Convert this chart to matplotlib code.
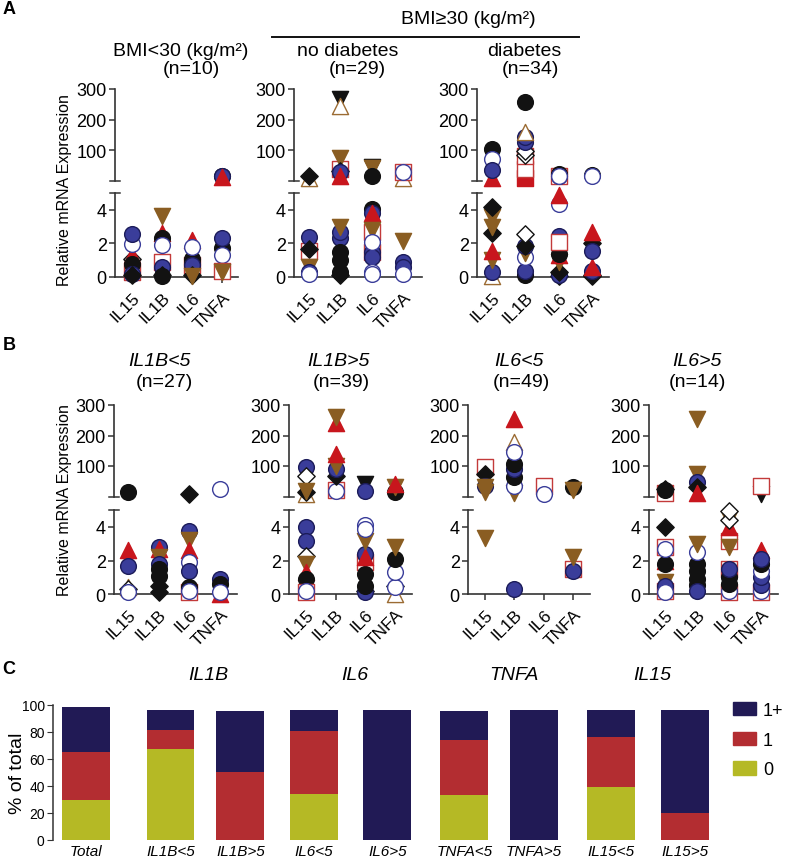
import matplotlib
matplotlib.use("Agg")
import matplotlib.pyplot as plt
from matplotlib.patches import Patch
from matplotlib.transforms import blended_transform_factory

plt.rcParams['font.family'] = ['Liberation Sans', 'DejaVu Sans']

W, H = 786, 862

# ---------------- data ----------------
GENES = ["IL15", "IL1B", "IL6", "TNFA"]

# Panel A, BMI<30
A1_IL15 = [("os", 0.3), ("od", 1.1), ("rt", 1.3), ("bc", 0.8), ("uc", 0.2), ("bd", 0.1), ("oc", 1.97), ("uc", 2.56)]
A1_IL1B = [("os", 0.9), ("rt", 2.6), ("bv", 3.65), ("bc", 2.3), ("oc", 1.9), ("uc", 0.6), ("bd", 0.1), ("bc", 0.05)]
A1_IL6 = [("rt", 2.2), ("os", 0.7), ("bc", 1.1), ("bc", 0.8), ("oc", 1.8), ("uc", 0.7), ("bd", 0.1), ("bv", 0.05)]
A1_TNFA = [("bc", 14), ("uc", 16), ("rt", 10), ("bc", 1.7), ("uc", 2.3), ("oc", 1.3), ("os", 0.35), ("bv", 0.3)]
# Panel A, BMI>=30 no diabetes
A2_IL15 = [("ot", 8), ("bd", 16), ("os", 1.57), ("uc", 2.4), ("bd", 1.65), ("bv", 0.6), ("uc", 0.3), ("oc", 0.15)]
A2_IL1B = [("os", 38), ("bv", 75), ("bd", 32), ("uc", 28), ("rt", 16), ("kv", 267), ("ot", 245),
           ("uc", 2.3), ("uc", 2.7), ("bv", 3.0), ("bc", 1.5), ("bc", 1.0), ("bd", 0.1), ("bc", 0.3)]
A2_IL6 = [("kv", 44), ("bv", 40), ("bc", 16), ("os", 2.7), ("os", 1.5), ("uc", 1.5), ("uc", 1.2), ("bc", 4.05),
          ("uc", 3.8), ("rt", 3.8), ("bv", 2.8), ("oc", 2.1), ("oc", 0.3), ("oc", 0.15)]
A2_TNFA = [("ot", 7), ("os", 29), ("oc", 28), ("bv", 2.15), ("uc", 0.9), ("uc", 0.6), ("oc", 0.15)]
# Panel A, BMI>=30 diabetes
A3_IL15 = [("bc", 103), ("oc", 70), ("rt", 8), ("uc", 35), ("ot", 0.05), ("uc", 0.3), ("bv", 1.0), ("rt", 1.57),
           ("bd", 2.6), ("bv", 3.0), ("bv", 3.57), ("bd", 4.17)]
A3_IL1B = [("rs", 8), ("os", 38), ("os", 81), ("od", 84), ("od", 98), ("uc", 125), ("uc", 142), ("ot", 159), ("bc", 257),
           ("bc", 0.1), ("uc", 0.35), ("oc", 1.2), ("bv", 1.4), ("uc", 1.85), ("bd", 1.87), ("od", 2.55)]
A3_IL6 = [("os", 16), ("uc", 16), ("bc", 22), ("oc", 16), ("bd", 0.05), ("uc", 0.1), ("bd", 0.3), ("bv", 0.9),
          ("rt", 1.3), ("bc", 1.35), ("uc", 2.46), ("os", 2.07), ("oc", 4.35), ("rt", 4.9)]
A3_TNFA = [("bc", 18), ("oc", 16), ("od", 0.05), ("bd", 0.1), ("uc", 0.35), ("rt", 0.6), ("bd", 2.0), ("rt", 2.7), ("uc", 1.57)]

# Panel B
B1_IL15 = [("bc", 14), ("rt", 2.6), ("uc", 1.7), ("ot", 0.4), ("od", 0.3), ("oc", 0.1)]
B1_IL1B = [("uc", 2.8), ("rt", 2.7), ("bv", 2.2), ("uc", 1.8), ("bc", 1.5), ("bc", 1.1), ("bd", 0.5), ("bd", 0.1)]
B1_IL6 = [("bd", 8), ("uc", 3.78), ("bv", 3.2), ("rt", 2.6), ("oc", 1.9), ("uc", 1.4), ("os", 0.1), ("bc", 0.4), ("oc", 0.2)]
B1_TNFA = [("oc", 25), ("rt", 0.0), ("uc", 0.9), ("bc", 0.6), ("oc", 0.1)]

B2_IL15 = [("ot", 7), ("bd", 15), ("uc", 96), ("od", 68), ("bv", 19), ("uc", 3.98), ("uc", 3.18), ("od", 2.29),
           ("bv", 1.8), ("rt", 1.3), ("bc", 0.9), ("os", 0.1), ("oc", 0.2)]
B2_IL1B = [("os", 20), ("oc", 19), ("bd", 68), ("uc", 90), ("bv", 101), ("rt", 139), ("rt", 240), ("bv", 261)]
B2_IL6 = [("kv", 40), ("uc", 19), ("bd", 0.2), ("uc", 0.1), ("bc", 0.5), ("os", 1.9), ("bc", 1.2), ("uc", 2.39),
          ("rt", 2.2), ("bv", 3.18), ("oc", 4.1), ("oc", 3.88)]
B2_TNFA = [("bc", 15), ("bv", 30), ("rt", 41), ("ot", 0.0), ("od", 0.5), ("oc", 0.4), ("oc", 1.3), ("bc", 2.09), ("bv", 2.79)]

B3_IL15 = [("os", 97), ("bd", 74), ("uc", 35), ("bv", 30), ("bv", 16), ("bv", 3.35)]
B3_IL1B = [("bv", 10), ("oc", 35), ("bc", 65), ("uc", 90), ("bc", 105), ("ot", 178), ("oc", 146), ("rt", 254), ("uc", 0.3)]
B3_IL6 = [("os", 35), ("oc", 8)]
B3_TNFA = [("bc", 30), ("bv", 20), ("os", 1.5), ("uc", 1.4), ("bv", 2.19)]

B4_IL15 = [("os", 10), ("bc", 20), ("bd", 25), ("os", 0.2), ("os", 2.8), ("bv", 0.7), ("rt", 2.0), ("bc", 1.79),
           ("oc", 2.69), ("uc", 0.5), ("oc", 0.1), ("bd", 3.98)]
B4_IL1B = [("bv", 74), ("uc", 46), ("bd", 30), ("rt", 10), ("bv", 254), ("bc", 0.55), ("bc", 0.9), ("bc", 1.4),
           ("bc", 1.8), ("uc", 0.15), ("oc", 2.49), ("bv", 2.99)]
B4_IL6 = [("os", 0.1), ("os", 1.5), ("os", 3.18), ("oc", 0.2), ("bc", 0.6), ("bc", 1.0), ("uc", 1.49), ("bv", 2.8),
          ("rt", 3.98), ("bv", 4.45), ("od", 4.4), ("od", 4.97)]
B4_TNFA = [("kv", 7), ("os", 35), ("os", 0.1), ("oc", 0.2), ("uc", 0.55), ("uc", 1.0), ("oc", 1.4), ("bc", 1.8),
           ("rt", 2.6), ("uc", 2.1)]

# Panel C (% of total)
C_CATS = ["Total", "IL1B<5", "IL1B>5", "IL6<5", "IL6>5", "TNFA<5", "TNFA>5", "IL15<5", "IL15>5"]
C_ZERO = [29.6, 67.4, 0, 34.0, 0, 33.6, 0, 39.5, 0]
C_ONE = [35.8, 14.3, 50.1, 46.5, 0, 40.4, 0, 37.0, 20.2]
C_ONEPLUS = [33.1, 14.8, 45.7, 16.0, 96.5, 21.8, 96.0, 19.5, 76.1]
C_GROUPS = ["IL1B", "IL6", "TNFA", "IL15"]

# ---------------- styles ----------------
STYLES = {
    'bc': dict(marker='o', fc='#121212', ec='#121212'),
    'uc': dict(marker='o', fc='#3a3d9a', ec='#1c1c5a'),
    'oc': dict(marker='o', fc='white', ec='#3a3d9a'),
    'bd': dict(marker='D', fc='#121212', ec='#121212'),
    'od': dict(marker='D', fc='white', ec='#121212'),
    'bv': dict(marker='v', fc='#8a5d22', ec='#8a5d22'),
    'kv': dict(marker='v', fc='#121212', ec='#121212'),
    'ot': dict(marker='^', fc='white', ec='#9b6b33'),
    'rt': dict(marker='^', fc='#c8161d', ec='#c8161d'),
    'os': dict(marker='s', fc='white', ec='#c33a3a'),
    'rs': dict(marker='s', fc='#c8161d', ec='#c8161d'),
}
MSIZE = {'o': 128, 'D': 78, 'v': 135, '^': 135, 's': 120}
AXC = '#333333'

fig = plt.figure(figsize=(W / 100, H / 100), dpi=100)


def rect(x0, ytop, x1, ybot):
    return [x0 / W, 1 - ybot / H, (x1 - x0) / W, (ybot - ytop) / H]


def ftext(x, y, s, **kw):
    kw.setdefault('ha', 'center')
    kw.setdefault('va', 'center')
    fig.text(x / W, 1 - y / H, s, **kw)


def broken(x_spine, cat0, cat3, x_end, top0, ppu_top, bot0, ppu_bot, cols):
    ppx = (cat3 - cat0) / 3.0
    xlo = -(cat0 - x_spine) / ppx
    xhi = 3 + (x_end - cat3) / ppx
    TOPMAX = 312
    at = fig.add_axes(rect(x_spine, top0 - TOPMAX * ppu_top, x_end, top0))
    ab = fig.add_axes(rect(x_spine, bot0 - 5 * ppu_bot, x_end, bot0))
    for ax in (at, ab):
        ax.set_xlim(xlo, xhi)
        ax.patch.set_alpha(0)
        for s in ('top', 'right'):
            ax.spines[s].set_visible(False)
        for s in ('left', 'bottom'):
            ax.spines[s].set_color(AXC)
            ax.spines[s].set_linewidth(1.2)
        ax.tick_params(direction='out', length=4, width=1.1, color=AXC, labelsize=13, pad=2)
    at.set_ylim(0, TOPMAX)
    at.spines['bottom'].set_visible(False)
    at.spines['left'].set_bounds(0, 300)
    at.set_yticks([100, 200, 300])
    at.set_xticks([])
    ab.set_ylim(0, 5)
    ab.spines['left'].set_bounds(0, 5)
    ab.set_yticks([0, 2, 4])
    ab.set_xticks(range(4))
    ab.set_xticklabels(GENES, rotation=45, ha='right', rotation_mode='anchor', fontsize=12.5)
    ab.tick_params(axis='x', pad=5)
    # break marks
    half = 5.0 / (x_end - x_spine)
    for ax, yv in ((at, 0), (ab, 5)):
        tr = blended_transform_factory(ax.transAxes, ax.transData)
        ax.plot([-half, half], [yv, yv], color=AXC, lw=1.1, transform=tr, clip_on=False)
    k = 0
    for i, col in enumerate(cols):
        for st, v in col:
            sty = STYLES[st]
            ax = at if v > 5 else ab
            ax.scatter([i], [v], marker=sty['marker'], s=MSIZE[sty['marker']], facecolors=sty['fc'],
                       edgecolors=sty['ec'], linewidths=1.0, clip_on=False, zorder=3 + k * 0.01)
            k += 1
    return at, ab


# ---------------- Panel A ----------------
A_top0, A_ppt, A_bot0, A_ppb = 181.5, 0.305, 278, 16.8
broken(115, 132, 222, 238, A_top0, A_ppt, A_bot0, A_ppb, [A1_IL15, A1_IL1B, A1_IL6, A1_TNFA])
broken(294, 309, 403, 422, A_top0, A_ppt, A_bot0, A_ppb, [A2_IL15, A2_IL1B, A2_IL6, A2_TNFA])
broken(477, 492, 592, 609, A_top0, A_ppt, A_bot0, A_ppb, [A3_IL15, A3_IL1B, A3_IL6, A3_TNFA])

ftext(468, 19, "BMI≥30 (kg/m²)", fontsize=14)
fig.add_artist(plt.Line2D([272 / W, 579 / W], [1 - 38 / H, 1 - 38 / H], color='#111111', lw=1.4))
ftext(181, 51, "BMI<30 (kg/m²)", fontsize=14)
ftext(191, 70, "(n=10)", fontsize=14)
ftext(348, 51, "no diabetes", fontsize=14)
ftext(357, 70, "(n=29)", fontsize=14)
ftext(524, 51, "diabetes", fontsize=14)
ftext(530, 70, "(n=34)", fontsize=14)
ftext(65, 190, "Relative mRNA Expression", rotation=90, fontsize=11.5)
ftext(9, 9, "A", fontsize=13, fontweight='bold')

# ---------------- Panel B ----------------
B_top0, B_ppt, B_bot0, B_ppb = 497.5, 0.305, 595, 16.75
broken(114, 128, 220, 237, B_top0, B_ppt, B_bot0, B_ppb, [B1_IL15, B1_IL1B, B1_IL6, B1_TNFA])
broken(289, 306, 395, 412, B_top0, B_ppt, B_bot0, B_ppb, [B2_IL15, B2_IL1B, B2_IL6, B2_TNFA])
broken(468, 485, 573, 590, B_top0, B_ppt, B_bot0, B_ppb, [B3_IL15, B3_IL1B, B3_IL6, B3_TNFA])
broken(649, 665, 761, 778, B_top0, B_ppt, B_bot0, B_ppb, [B4_IL15, B4_IL1B, B4_IL6, B4_TNFA])

for (x, y, s, it) in [(159, 362, "IL1B<5", True), (164, 383, "(n=27)", False),
                      (338, 362, "IL1B>5", True), (341, 383, "(n=39)", False),
                      (519, 362, "IL6<5", True), (521, 383, "(n=49)", False),
                      (697, 362, "IL6>5", True), (697, 383, "(n=14)", False)]:
    ftext(x, y, s, fontsize=14, style='italic' if it else 'normal')
ftext(65, 500, "Relative mRNA Expression", rotation=90, fontsize=11.5)
ftext(9, 346, "B", fontsize=13, fontweight='bold')

# ---------------- Panel C ----------------
XPOS = [0, 1.15, 2.1, 3.1, 4.1, 5.15, 6.1, 7.15, 8.15]
NAVY, RED, YEL = '#211a55', '#b32d31', '#b5b925'
axc = fig.add_axes(rect(53, 706, 720, 841))
axc.bar(XPOS, C_ZERO, width=0.65, color=YEL)
bot1 = [z for z in C_ZERO]
axc.bar(XPOS, C_ONE, width=0.65, bottom=bot1, color=RED)
bot2 = [z + o for z, o in zip(C_ZERO, C_ONE)]
axc.bar(XPOS, C_ONEPLUS, width=0.65, bottom=bot2, color=NAVY)
axc.set_xlim(-0.45, 8.63)
axc.set_ylim(0, 100)
for s in ('top', 'right', 'bottom'):
    axc.spines[s].set_visible(False)
axc.spines['left'].set_color(AXC)
axc.spines['left'].set_linewidth(1.1)
axc.set_yticks(range(0, 101, 20))
axc.tick_params(axis='y', direction='out', length=4, color=AXC, labelsize=10, pad=2)
axc.set_xticks(XPOS)
axc.set_xticklabels(C_CATS, style='italic', fontsize=11)
axc.tick_params(axis='x', length=0, pad=3)
ftext(18, 773, "% of total", rotation=90, fontsize=14)
for x, g in zip([208, 355, 514, 652], C_GROUPS):
    ftext(x, 676, g, fontsize=14, style='italic')
ftext(9, 669, "C", fontsize=13, fontweight='bold')

handles = [Patch(color=NAVY), Patch(color=RED), Patch(color=YEL)]
fig.legend(handles, ["1+", "1", "0"], loc='upper left', bbox_to_anchor=(733 / W, 1 - 703 / H),
           frameon=False, fontsize=13, handlelength=1.3, handleheight=0.75, labelspacing=0.7,
           handletextpad=0.35, borderpad=0, borderaxespad=0)

fig.savefig("out.png", dpi=100)
